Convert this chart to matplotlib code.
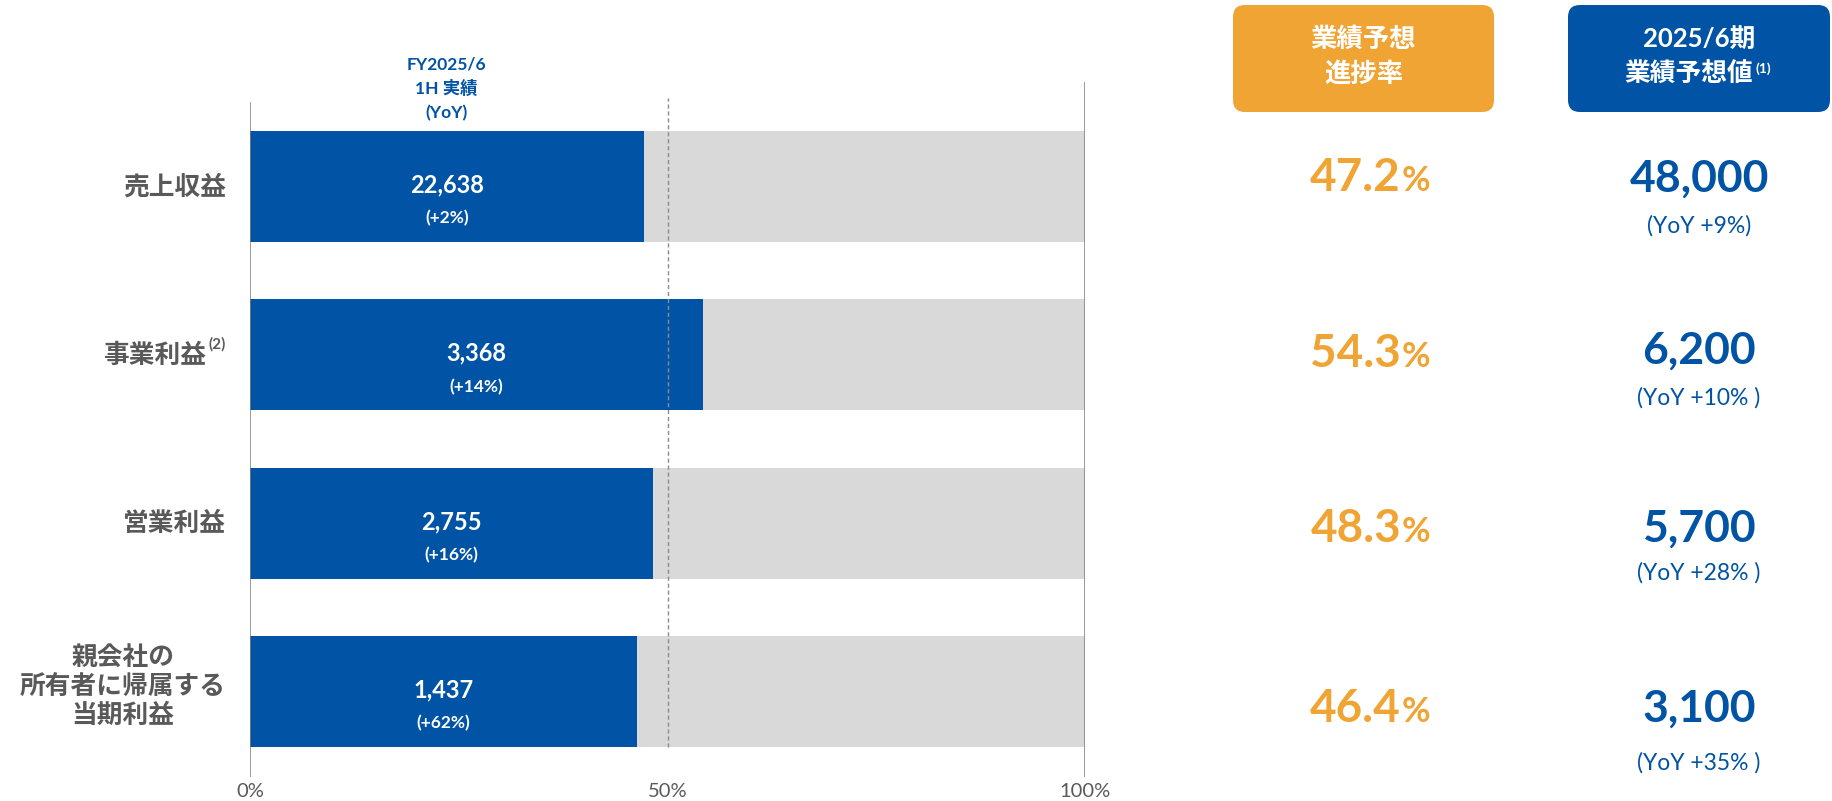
import matplotlib.pyplot as plt
from matplotlib.patches import FancyBboxPatch

plt.rcParams['font.family'] = ['Lato', 'Noto Sans CJK JP', 'DejaVu Sans']

# 1H actuals vs full-year forecast (million yen)
categories = ['売上収益', '事業利益', '営業利益', '親会社の\n所有者に帰属する\n当期利益']
category_notes = ['', '(2)', '', '']
actual_labels = ['22,638', '3,368', '2,755', '1,437']
actual_yoy = ['(+2%)', '(+14%)', '(+16%)', '(+62%)']
progress = [47.2, 54.3, 48.3, 46.4]          # % of forecast achieved
forecast_labels = ['48,000', '6,200', '5,700', '3,100']
forecast_yoy = ['(YoY +9%)', '(YoY +10% )', '(YoY +28% )', '(YoY +35% )']
xticks = [0, 50, 100]
xtick_labels = ['0%', '50%', '100%']

BLUE = '#0053A5'
ORANGE = '#EFA434'
LIGHT = '#D9D9D9'
GREY_TXT = '#595959'
LINE = '#7F7F7F'

W, H = 1832, 801
fig = plt.figure(figsize=(W / 100, H / 100), dpi=100)

# bar panel, laid out in pixels
ax_l, ax_r, ax_t, ax_b = 250, 1085, 82, 777
ax = fig.add_axes([ax_l / W, 1 - ax_b / H, (ax_r - ax_l) / W, (ax_b - ax_t) / H])
rows = list(range(len(categories)))
ax.set_xlim(0, 100)
ax.set_ylim(3.509, -0.622)

ax.barh(rows, [100] * len(rows), height=0.66, color=LIGHT, zorder=1)
ax.barh(rows, progress, height=0.66, color=BLUE, zorder=2)

ax.axvline(0, ymin=0, ymax=0.970, color=LINE, lw=1.1, zorder=3)
ax.axvline(100, ymin=0, ymax=1, color=LINE, lw=1.1, zorder=3)
ax.axvline(50, ymin=0.043, ymax=0.977, color='#8C8C8C', lw=1.0,
           dashes=(3, 2), zorder=3)

for s in ax.spines.values():
    s.set_visible(False)
ax.set_yticks([])
ax.set_xticks(xticks)
ax.set_xticklabels(xtick_labels, fontsize=14.5, color=GREY_TXT)
ax.tick_params(axis='x', length=0, pad=4)
ax.patch.set_alpha(0)

for i, (p, v, y) in enumerate(zip(progress, actual_labels, actual_yoy)):
    ax.text(p / 2, i - 0.01, v, ha='center', va='center', color='white',
            fontsize=17, fontweight='bold', zorder=4)
    ax.text(p / 2, i + 0.19, y, ha='center', va='center', color='white',
            fontsize=12.5, fontweight='bold', zorder=4)

# category labels to the left of the bars
lab_x = -2.9
for i, (c, n) in enumerate(zip(categories, category_notes)):
    if n:
        ax.text(lab_x, i - 0.02, n, ha='right', va='bottom', color=GREY_TXT,
                fontsize=11, fontweight='bold')
        ax.text(lab_x - 2.4, i, c, ha='right', va='center', color=GREY_TXT,
                fontsize=18.5, fontweight='bold')
    elif '\n' in c:
        ax.text(lab_x, i - 0.03, c, ha='right', va='center', color=GREY_TXT,
                fontsize=18.5, fontweight='bold', multialignment='center',
                linespacing=1.2)
    else:
        ax.text(lab_x, i, c, ha='right', va='center', color=GREY_TXT,
                fontsize=18.5, fontweight='bold')

# overlay in pixel units for headers and right-hand columns
ov = fig.add_axes([0, 0, 1, 1])
ov.set_xlim(0, W)
ov.set_ylim(H, 0)
ov.axis('off')

ov.text(446, 64, 'FY2025/6', ha='center', va='center', color=BLUE,
        fontsize=12.5, fontweight='bold')
ov.text(446, 88, '1H 実績', ha='center', va='center', color=BLUE,
        fontsize=12.5, fontweight='bold')
ov.text(446, 113, '(YoY)', ha='center', va='center', color=BLUE,
        fontsize=12.5, fontweight='bold')

for x0, x1, col in [(1233, 1494, ORANGE), (1568, 1830, BLUE)]:
    ov.add_patch(FancyBboxPatch((x0, 5), x1 - x0, 107,
                                boxstyle='round,pad=0,rounding_size=12',
                                facecolor=col, edgecolor='none'))

ov.text(1363.5, 39, '業績予想', ha='center', va='center', color='white',
        fontsize=19, fontweight='bold')
ov.text(1363.5, 73, '進捗率', ha='center', va='center', color='white',
        fontsize=19, fontweight='bold')
ov.text(1699, 39, '2025/6期', ha='center', va='center', color='white',
        fontsize=18.5, fontweight='bold')
ov.text(1753, 73, '業績予想値', ha='right', va='center', color='white',
        fontsize=18.5, fontweight='bold')
ov.text(1755, 69, '(1)', ha='left', va='center', color='white',
        fontsize=10, fontweight='bold')

# right-hand columns: progress rate and full-year forecast
pct_y = [178, 354, 529, 709]
fc_y = [179, 351, 529, 709]
fc_yoy_y = [226, 398, 573, 763]
for p, yy in zip(progress, pct_y):
    ov.text(1401, yy, f'{p:.1f}', ha='right', va='center', color=ORANGE,
            fontsize=33, fontweight='bold')
    ov.text(1402, yy + 3, '%', ha='left', va='center', color=ORANGE,
            fontsize=25, fontweight='bold')
for f, fy, yoy, yy in zip(forecast_labels, fc_y, forecast_yoy, fc_yoy_y):
    ov.text(1699, fy, f, ha='center', va='center', color=BLUE,
            fontsize=32, fontweight='bold')
    ov.text(1699, yy, yoy, ha='center', va='center', color=BLUE,
            fontsize=16.5)

fig.savefig('out.png', dpi=100)
